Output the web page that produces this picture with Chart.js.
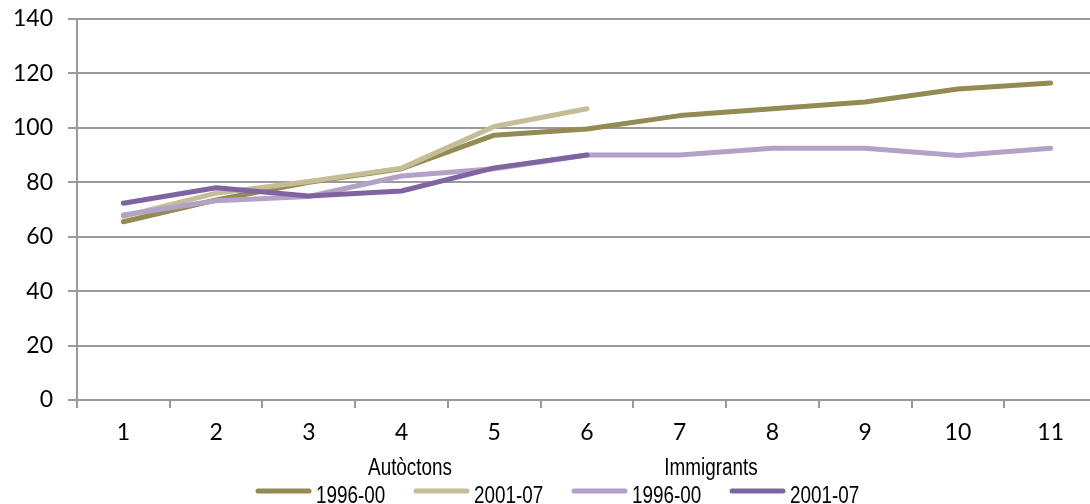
<!DOCTYPE html>
<html>
<head>
<meta charset="utf-8">
<script src="https://cdn.jsdelivr.net/npm/chart.js@4.4.0/dist/chart.umd.min.js"></script>
<style>
  html, body { margin: 0; padding: 0; background: #fff; overflow: hidden; }
  #wrap { width: 1090px; height: 504px; overflow: hidden; }
</style>
</head>
<body>
<div id="wrap"><canvas id="chart" width="1100" height="504"></canvas></div>
<script>
// data
const categories = ["1","2","3","4","5","6","7","8","9","10","11"];
const yTicks = [0, 20, 40, 60, 80, 100, 120, 140];

const autoctons9600 = [65.5, 73.5, 80, 85, 97.3, 99.6, 104.5, 107, 109.5, 114.3, 116.5];
const autoctons0107 = [67.5, 76, 80.3, 85.2, 100.5, 107, null, null, null, null, null];
const immigrants9600 = [68, 73.2, 74.8, 82.3, 85, 90, 90, 92.5, 92.5, 89.8, 92.5];
const immigrants0107 = [72.3, 78, 75, 76.8, 85.3, 90, null, null, null, null, null];

const groupNames = ["Autòctons", "Immigrants"];
const periodNames = ["1996-00", "2001-07", "1996-00", "2001-07"];

const colors = ["#948A54", "#C4BD97", "#B3A2C7", "#8064A2"];
const gridColor = "#9a9a9a";
const tickFont = { family: "Lato, 'Open Sans', sans-serif", size: 23 };
const legendFont = "23px 'Liberation Sans', Arial, sans-serif";

function line(data, i){
    return {
        label: periodNames[i],
        data: data,
        borderColor: colors[i],
        backgroundColor: colors[i],
        borderWidth: 5,
        borderCapStyle: "round",
        borderJoinStyle: "round",
        pointRadius: 0,
        tension: 0,
        spanGaps: false,
        order: 4 - i
    };
}

// narrow text: regular font squeezed sideways
function narrowText(ctx, txt, x, y, align){
    ctx.save();
    ctx.translate(x, y);
    ctx.scale(0.82, 1);
    ctx.textAlign = align;
    ctx.fillText(txt, 0, 0);
    ctx.restore();
}

// legend with group titles, drawn under the axis
const groupLegend = {
    id: "groupLegend",
    afterDraw(c){
        const ctx = c.ctx;
        ctx.save();
        ctx.font = legendFont;
        ctx.fillStyle = "#000";
        ctx.textBaseline = "alphabetic";
        narrowText(ctx, groupNames[0], 410, 475, "center");
        narrowText(ctx, groupNames[1], 711, 475, "center");

        let x = 255;
        periodNames.forEach((p, i)=>{
            ctx.strokeStyle = colors[i];
            ctx.lineWidth = 5;
            ctx.lineCap = "round";
            ctx.beginPath();
            ctx.moveTo(x + 3, 491);
            ctx.lineTo(x + 54, 491);
            ctx.stroke();
            narrowText(ctx, p, x + 61, 503, "left");
            x += 158;
        });
        ctx.restore();
    }
};

new Chart(document.getElementById("chart"), {
    type: "line",
    data: {
        labels: categories,
        datasets: [
            line(autoctons9600, 0),
            line(autoctons0107, 1),
            line(immigrants9600, 2),
            line(immigrants0107, 3)
        ]
    },
    options: {
        responsive: false,
        animation: false,
        layout: { padding: { top: 19, right: 3, left: 0, bottom: 0 } },
        plugins: {
            legend: { display: false },
            tooltip: { enabled: false }
        },
        scales: {
            x: {
                offset: true,
                grid: {
                    offset: true,
                    drawOnChartArea: false,
                    color: gridColor,
                    lineWidth: 2,
                    tickLength: 8
                },
                border: { color: gridColor, width: 2 },
                ticks: { color: "#000", font: tickFont, padding: 11, maxRotation: 0 },
                afterFit(s){
                    s.height = 104;
                    s.paddingLeft = 0;
                    s.paddingRight = 0;
                }
            },
            y: {
                min: 0,
                max: 140,
                afterBuildTicks(s){ s.ticks = yTicks.map(v=>({ value: v })); },
                grid: { color: gridColor, lineWidth: 2, tickLength: 9 },
                border: { color: gridColor, width: 2 },
                ticks: { color: "#000", font: tickFont, padding: 15 },
                afterFit(s){
                    s.width = 77;
                    s.paddingTop = 0;
                    s.paddingBottom = 0;
                }
            }
        }
    },
    plugins: [groupLegend]
});
</script>
</body>
</html>
